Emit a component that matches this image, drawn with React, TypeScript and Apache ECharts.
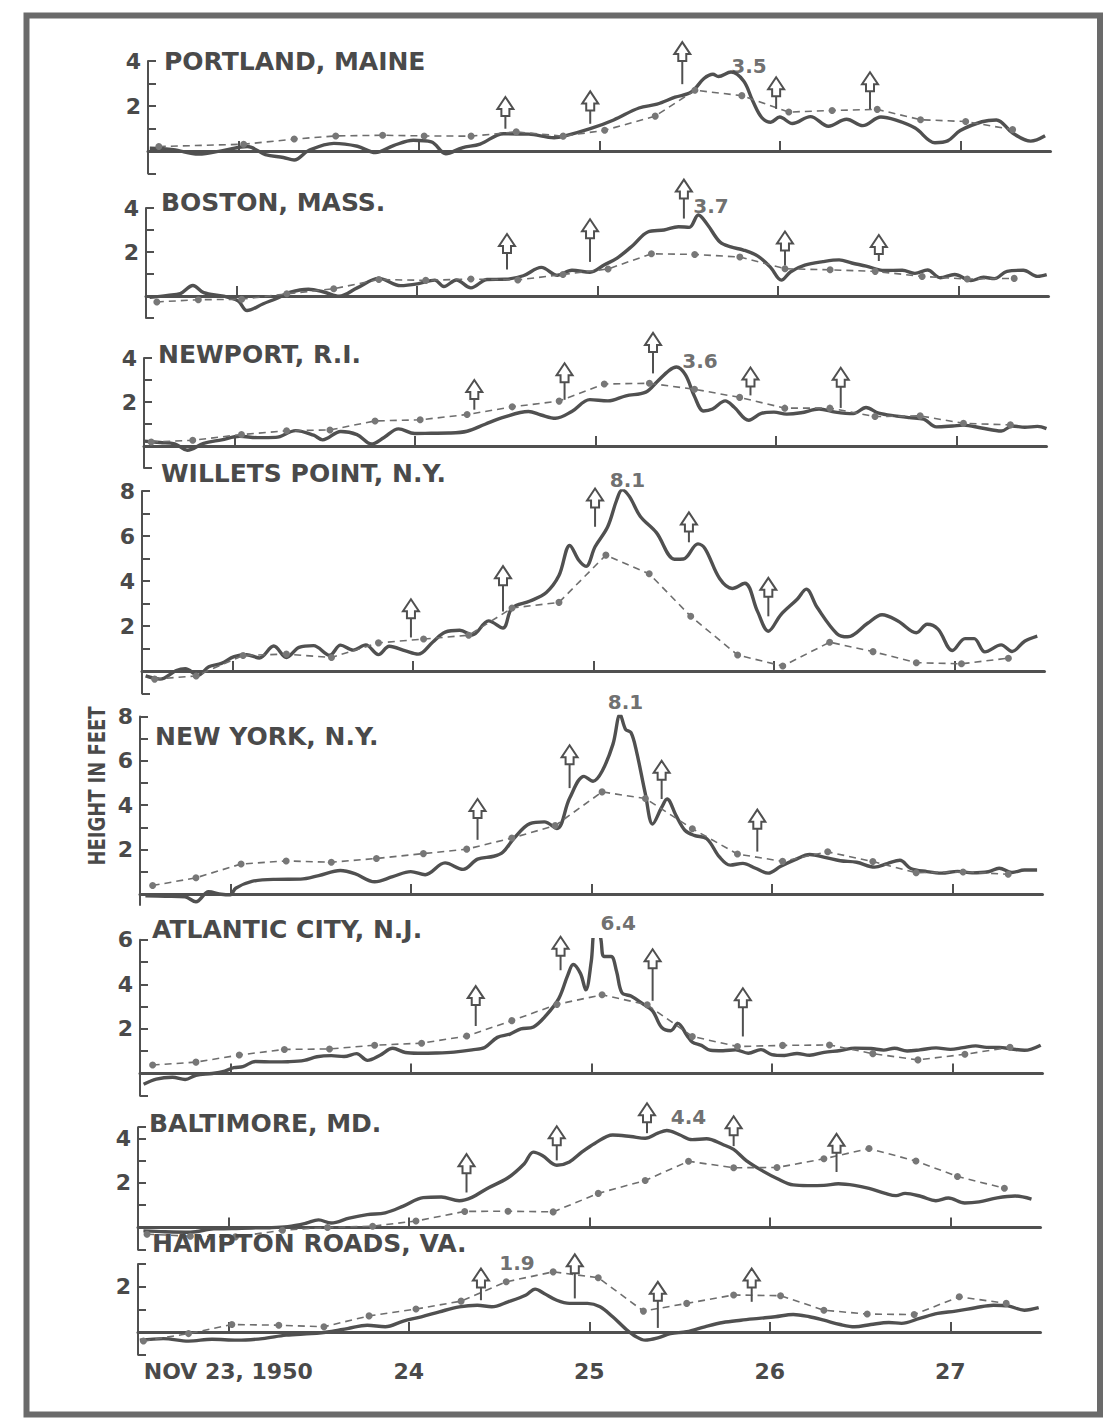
import React, { useEffect, useRef } from "react";
import * as echarts from "echarts";

// ---------- data (time in days of Nov 1950, height in feet) ----------
const DAY_TICKS = [23, 24, 25, 26, 27];
const DAY_LABELS = ["NOV 23, 1950", "24", "25", "26", "27"];

const STATION_NAMES = [
  "PORTLAND, MAINE",
  "BOSTON, MASS.",
  "NEWPORT, R.I.",
  "WILLETS POINT, N.Y.",
  "NEW YORK, N.Y.",
  "ATLANTIC CITY, N.J.",
  "BALTIMORE, MD.",
  "HAMPTON ROADS, VA.",
];
const PEAK_TEXT = ["3.5", "3.7", "3.6", "8.1", "8.1", "6.4", "4.4", "1.9"];
const PEAK_POS = [
  [25.83, 3.8], [25.63, 4.1], [25.58, 3.85], [25.19, 8.5],
  [25.19, 8.65], [25.15, 6.75], [25.55, 4.95], [24.6, 3.05],
];

const PORTLAND_OBS = [[22.51,0.12],[22.64,0.06],[22.78,-0.14],[22.92,0.03],[23.05,0.2],[23.15,-0.16],[23.25,-0.29],[23.31,-0.4],[23.39,0.02],[23.53,0.34],[23.66,0.21],[23.76,-0.07],[23.86,0.24],[23.97,0.48],[24.07,0.41],[24.15,-0.12],[24.24,0.14],[24.34,0.31],[24.47,0.77],[24.61,0.75],[24.75,0.59],[24.81,0.67],[24.95,0.99],[25.08,1.38],[25.22,1.91],[25.32,2.08],[25.42,2.39],[25.51,2.62],[25.58,3.22],[25.63,3.41],[25.66,3.31],[25.73,3.51],[25.8,3.11],[25.85,2.23],[25.9,1.49],[25.95,1.28],[26.0,1.51],[26.07,1.22],[26.17,1.53],[26.27,1.1],[26.37,1.41],[26.46,1.13],[26.56,1.51],[26.64,1.38],[26.75,1.02],[26.86,0.37],[26.93,0.45],[27.0,0.91],[27.12,1.3],[27.2,1.38],[27.29,0.8],[27.39,0.44],[27.47,0.68]];
const PORTLAND_PRED = [[22.56,0.2],[23.03,0.3],[23.31,0.53],[23.54,0.67],[23.8,0.7],[24.03,0.67],[24.29,0.66],[24.54,0.85],[24.8,0.66],[25.03,0.92],[25.31,1.55],[25.53,2.7],[25.79,2.46],[26.05,1.73],[26.29,1.8],[26.54,1.85],[26.78,1.39],[27.03,1.31],[27.29,0.95]];
const PORTLAND_ARROWS = [[24.48,0.99,2.4],[24.95,1.21,2.65],[25.46,2.97,4.84],[25.98,1.87,3.28],[26.5,1.87,3.5]];

const BOSTON_OBS = [[22.52,-0.06],[22.62,0.03],[22.69,0.11],[22.76,0.48],[22.82,0.15],[22.93,-0.01],[23.01,-0.22],[23.06,-0.66],[23.15,-0.35],[23.23,-0.09],[23.3,0.18],[23.4,0.31],[23.49,0.17],[23.57,-0.01],[23.67,0.37],[23.79,0.8],[23.91,0.47],[24.01,0.56],[24.1,0.72],[24.15,0.43],[24.22,0.73],[24.3,0.37],[24.39,0.75],[24.49,0.76],[24.59,0.92],[24.69,1.3],[24.78,0.94],[24.86,1.17],[24.96,1.08],[25.04,1.42],[25.11,1.72],[25.2,2.32],[25.28,2.91],[25.37,3.0],[25.45,3.15],[25.51,3.12],[25.56,3.68],[25.61,3.25],[25.68,2.45],[25.74,2.23],[25.81,2.09],[25.89,1.81],[25.96,1.3],[26.02,0.72],[26.07,1.09],[26.15,1.4],[26.25,1.56],[26.34,1.64],[26.41,1.5],[26.49,1.36],[26.59,1.16],[26.69,1.17],[26.76,1.03],[26.83,1.18],[26.9,0.83],[26.98,0.98],[27.07,0.7],[27.14,0.85],[27.2,0.79],[27.27,1.12],[27.36,1.17],[27.44,0.89],[27.49,0.97]];
const BOSTON_PRED = [[22.56,-0.27],[22.79,-0.17],[23.03,-0.15],[23.28,0.1],[23.54,0.33],[23.79,0.75],[24.05,0.71],[24.3,0.77],[24.56,0.73],[24.81,0.98],[25.06,1.23],[25.3,1.92],[25.54,1.89],[25.79,1.77],[26.04,1.24],[26.29,1.19],[26.54,1.12],[26.8,0.89],[27.05,0.77],[27.31,0.8]];
const BOSTON_ARROWS = [[24.5,1.2,2.82],[24.96,1.55,3.49],[25.48,3.52,5.29],[26.04,1.39,2.93],[26.56,1.59,2.77]];

const NEWPORT_OBS = [[22.5,0.22],[22.59,0.16],[22.67,0.1],[22.74,-0.19],[22.83,0.12],[22.93,0.28],[23.03,0.44],[23.13,0.38],[23.23,0.39],[23.34,0.7],[23.44,0.49],[23.49,0.28],[23.59,0.66],[23.68,0.52],[23.76,0.09],[23.83,0.39],[23.91,0.78],[24.0,0.57],[24.09,0.58],[24.19,0.59],[24.29,0.67],[24.39,0.99],[24.49,1.3],[24.63,1.57],[24.7,1.41],[24.78,1.26],[24.87,1.57],[24.97,2.11],[25.07,2.05],[25.17,2.28],[25.28,2.45],[25.34,2.9],[25.41,3.44],[25.45,3.59],[25.5,3.23],[25.55,2.25],[25.6,1.59],[25.65,1.68],[25.72,2.05],[25.77,1.76],[25.85,1.17],[25.92,1.48],[25.99,1.54],[26.06,1.45],[26.14,1.51],[26.24,1.68],[26.33,1.54],[26.43,1.47],[26.5,1.75],[26.57,1.49],[26.67,1.36],[26.74,1.29],[26.82,1.22],[26.89,0.87],[26.98,0.91],[27.04,0.95],[27.14,0.82],[27.25,0.68],[27.31,0.91],[27.38,0.85],[27.45,0.89],[27.5,0.79]];
const NEWPORT_PRED = [[22.54,0.18],[22.77,0.26],[23.04,0.52],[23.29,0.69],[23.53,0.73],[23.78,1.14],[24.03,1.19],[24.29,1.43],[24.54,1.78],[24.8,2.04],[25.05,2.82],[25.3,2.85],[25.55,2.58],[25.8,2.21],[26.05,1.72],[26.3,1.72],[26.55,1.34],[26.8,1.37],[27.04,1.03],[27.3,0.96]];
const NEWPORT_ARROWS = [[24.33,1.65,3.0],[24.83,2.1,3.76],[25.32,3.3,5.14],[25.86,2.3,3.57],[26.36,1.73,3.56]];

const WILLETS_OBS = [[22.52,-0.22],[22.6,-0.36],[22.69,0.02],[22.74,0.1],[22.81,-0.19],[22.87,0.19],[22.94,0.34],[23.01,0.64],[23.08,0.72],[23.15,0.58],[23.23,1.11],[23.3,0.6],[23.37,1.05],[23.45,1.13],[23.54,0.7],[23.6,1.15],[23.67,0.93],[23.74,1.16],[23.81,0.73],[23.87,1.1],[23.96,0.89],[24.03,0.75],[24.11,1.28],[24.18,1.73],[24.26,1.81],[24.33,1.6],[24.42,2.23],[24.5,1.91],[24.55,2.8],[24.65,3.11],[24.74,3.49],[24.81,4.24],[24.87,5.58],[24.92,4.92],[24.96,4.65],[25.01,5.52],[25.08,6.41],[25.13,7.6],[25.16,8.05],[25.2,7.76],[25.26,6.88],[25.35,6.15],[25.45,4.97],[25.5,4.98],[25.58,5.65],[25.62,5.43],[25.7,4.11],[25.77,3.67],[25.84,3.9],[25.91,2.65],[25.97,1.77],[26.04,2.51],[26.13,3.19],[26.18,3.64],[26.24,2.83],[26.35,1.66],[26.41,1.52],[26.52,2.12],[26.6,2.5],[26.69,2.21],[26.79,1.7],[26.85,2.08],[26.91,1.86],[26.99,0.91],[27.06,1.44],[27.11,1.44],[27.17,0.85],[27.26,1.16],[27.32,0.87],[27.39,1.32],[27.46,1.55]];
const WILLETS_PRED = [[22.57,-0.36],[22.8,-0.22],[23.06,0.69],[23.3,0.75],[23.55,0.6],[23.81,1.25],[24.06,1.42],[24.31,1.59],[24.55,2.8],[24.81,3.05],[25.07,5.15],[25.31,4.32],[25.54,2.43],[25.8,0.71],[26.05,0.22],[26.31,1.28],[26.55,0.86],[26.79,0.37],[27.04,0.32],[27.3,0.57]];
const WILLETS_ARROWS = [[23.99,1.49,3.19],[24.5,2.65,4.66],[25.01,6.41,8.11],[25.53,5.72,7.05],[25.97,2.43,4.14]];

const NEWYORK_OBS = [[22.53,-0.08],[22.64,-0.1],[22.75,-0.13],[22.81,-0.35],[22.88,0.1],[22.95,-0.01],[23.0,-0.04],[23.03,0.26],[23.12,0.57],[23.25,0.66],[23.39,0.67],[23.49,0.83],[23.61,1.06],[23.69,0.92],[23.8,0.55],[23.9,0.78],[24.0,1.01],[24.08,0.87],[24.19,1.4],[24.29,1.11],[24.37,1.57],[24.46,1.7],[24.51,1.88],[24.57,2.49],[24.66,3.17],[24.74,3.25],[24.81,2.95],[24.88,4.31],[24.96,5.3],[25.01,5.08],[25.06,5.53],[25.12,6.74],[25.16,8.09],[25.19,7.42],[25.22,7.27],[25.25,6.45],[25.3,4.5],[25.34,3.15],[25.39,3.9],[25.42,4.28],[25.47,3.53],[25.52,2.86],[25.57,2.64],[25.64,2.49],[25.71,1.67],[25.77,1.3],[25.84,1.38],[25.91,1.16],[25.98,0.94],[26.05,1.25],[26.13,1.55],[26.21,1.78],[26.3,1.64],[26.38,1.5],[26.47,1.43],[26.57,1.21],[26.64,1.37],[26.71,1.52],[26.77,1.15],[26.86,1.01],[26.94,0.94],[27.03,1.02],[27.11,0.95],[27.2,1.0],[27.26,1.16],[27.33,0.97],[27.4,1.08],[27.47,1.08]];
const NEWYORK_PRED = [[22.57,0.38],[22.81,0.73],[23.06,1.35],[23.31,1.49],[23.56,1.43],[23.81,1.6],[24.07,1.82],[24.31,2.02],[24.56,2.52],[24.8,3.08],[25.06,4.6],[25.3,4.3],[25.56,2.94],[25.81,1.8],[26.06,1.47],[26.31,1.9],[26.56,1.46],[26.8,0.96],[27.06,0.99],[27.31,0.89]];
const NEWYORK_ARROWS = [[24.37,2.44,4.28],[24.88,4.77,6.7],[25.39,4.28,6.0],[25.92,1.91,3.8]];

const ATLANTIC_OBS = [[22.52,-0.48],[22.59,-0.25],[22.68,-0.17],[22.75,-0.27],[22.81,-0.08],[22.9,0.0],[22.97,0.11],[23.02,0.26],[23.07,0.31],[23.14,0.54],[23.24,0.52],[23.32,0.53],[23.41,0.59],[23.48,0.75],[23.56,0.8],[23.63,0.76],[23.7,0.89],[23.76,0.59],[23.83,0.82],[23.9,1.13],[23.97,0.94],[24.04,0.91],[24.14,0.92],[24.24,0.96],[24.34,1.06],[24.41,1.17],[24.48,1.62],[24.55,1.77],[24.61,2.0],[24.68,2.09],[24.75,2.61],[24.82,3.36],[24.87,4.41],[24.9,4.89],[24.94,4.49],[24.97,3.75],[25.0,5.02],[25.02,6.44],[25.05,6.14],[25.07,5.25],[25.11,5.25],[25.14,4.59],[25.17,3.62],[25.22,3.47],[25.29,3.1],[25.34,2.81],[25.39,2.07],[25.44,1.92],[25.48,2.25],[25.53,1.71],[25.56,1.41],[25.61,1.26],[25.66,1.04],[25.73,1.02],[25.8,1.06],[25.87,0.91],[25.94,1.07],[26.0,0.85],[26.07,0.81],[26.14,0.9],[26.21,0.82],[26.29,0.95],[26.38,1.03],[26.46,1.14],[26.55,1.12],[26.62,1.05],[26.68,1.13],[26.75,1.01],[26.82,1.06],[26.91,1.15],[26.99,1.08],[27.06,1.16],[27.13,1.24],[27.19,1.17],[27.26,1.17],[27.33,1.1],[27.4,1.04],[27.49,1.27]];
const ATLANTIC_PRED = [[22.57,0.38],[22.81,0.51],[23.05,0.83],[23.3,1.08],[23.55,1.1],[23.8,1.27],[24.06,1.36],[24.31,1.68],[24.56,2.37],[24.81,3.1],[25.06,3.53],[25.31,3.08],[25.56,1.66],[25.81,1.21],[26.06,1.26],[26.32,1.28],[26.56,0.89],[26.81,0.61],[27.07,0.86],[27.32,1.18]];
const ATLANTIC_ARROWS = [[24.36,2.13,3.92],[24.83,4.63,6.13],[25.34,3.26,5.57],[25.84,1.66,3.82]];

const BALTIMORE_OBS = [[22.53,-0.15],[22.65,-0.19],[22.79,-0.21],[22.92,-0.06],[23.02,-0.05],[23.13,-0.02],[23.23,-0.01],[23.33,0.04],[23.43,0.19],[23.5,0.34],[23.57,0.2],[23.67,0.42],[23.77,0.58],[23.87,0.66],[23.97,0.96],[24.08,1.34],[24.18,1.37],[24.28,1.2],[24.35,1.35],[24.43,1.73],[24.55,2.23],[24.64,2.86],[24.69,3.38],[24.74,3.23],[24.82,2.79],[24.89,2.94],[24.96,3.39],[25.03,3.77],[25.13,4.15],[25.23,4.08],[25.31,4.0],[25.38,4.23],[25.43,4.35],[25.5,4.16],[25.57,3.94],[25.65,3.98],[25.74,3.72],[25.8,3.5],[25.87,3.0],[25.96,2.54],[26.04,2.2],[26.13,1.91],[26.21,1.88],[26.3,1.89],[26.38,1.96],[26.47,1.89],[26.55,1.75],[26.64,1.53],[26.7,1.43],[26.75,1.53],[26.84,1.39],[26.92,1.2],[26.99,1.32],[27.08,1.1],[27.16,1.15],[27.26,1.33],[27.36,1.41],[27.45,1.27]];
const BALTIMORE_PRED = [[22.55,-0.3],[22.79,-0.39],[23.04,-0.42],[23.3,-0.12],[23.55,0.0],[23.8,0.06],[24.04,0.29],[24.31,0.72],[24.55,0.73],[24.8,0.7],[25.05,1.53],[25.31,2.11],[25.55,2.97],[25.8,2.68],[26.04,2.69],[26.3,3.08],[26.55,3.54],[26.81,2.98],[27.04,2.29],[27.3,1.76]];
const BALTIMORE_ARROWS = [[24.32,1.57,3.29],[24.82,3.01,4.54],[25.32,4.23,5.57],[25.8,3.65,4.99],[26.37,2.49,4.2]];

const HAMPTON_OBS = [[22.51,-0.36],[22.64,-0.29],[22.78,-0.4],[22.91,-0.32],[23.05,-0.36],[23.19,-0.29],[23.32,-0.14],[23.46,-0.07],[23.56,0.01],[23.66,0.15],[23.77,0.3],[23.87,0.23],[23.97,0.48],[24.07,0.67],[24.17,0.89],[24.28,1.11],[24.38,1.18],[24.46,1.11],[24.55,1.33],[24.65,1.63],[24.7,1.89],[24.75,1.7],[24.82,1.4],[24.89,1.26],[24.99,1.26],[25.06,1.11],[25.13,0.67],[25.2,0.15],[25.26,-0.21],[25.31,-0.36],[25.38,-0.26],[25.45,-0.07],[25.54,0.01],[25.64,0.23],[25.74,0.42],[25.84,0.52],[25.94,0.6],[26.03,0.67],[26.13,0.77],[26.22,0.67],[26.3,0.52],[26.39,0.33],[26.47,0.23],[26.56,0.33],[26.66,0.42],[26.73,0.38],[26.83,0.6],[26.93,0.82],[27.03,0.92],[27.14,1.07],[27.24,1.18],[27.32,1.15],[27.41,0.96],[27.49,1.07]];
const HAMPTON_PRED = [[22.53,-0.4],[22.78,-0.07],[23.02,0.33],[23.28,0.3],[23.53,0.23],[23.78,0.71],[24.04,1.01],[24.29,1.36],[24.54,2.21],[24.8,2.65],[25.05,2.39],[25.3,0.92],[25.54,1.26],[25.8,1.63],[26.06,1.6],[26.3,0.96],[26.54,0.79],[26.8,0.77],[27.05,1.55],[27.31,1.26]];
const HAMPTON_ARROWS = [[24.4,1.4,2.8],[24.92,1.48,3.42],[25.38,0.18,2.21],[25.9,1.33,2.8]];

const OBS = [PORTLAND_OBS, BOSTON_OBS, NEWPORT_OBS, WILLETS_OBS, NEWYORK_OBS, ATLANTIC_OBS, BALTIMORE_OBS, HAMPTON_OBS];
const PRED = [PORTLAND_PRED, BOSTON_PRED, NEWPORT_PRED, WILLETS_PRED, NEWYORK_PRED, ATLANTIC_PRED, BALTIMORE_PRED, HAMPTON_PRED];
const ARROWS = [PORTLAND_ARROWS, BOSTON_ARROWS, NEWPORT_ARROWS, WILLETS_ARROWS, NEWYORK_ARROWS, ATLANTIC_ARROWS, BALTIMORE_ARROWS, HAMPTON_ARROWS];

// y-axis ranges / ticks / labels
const Y_MIN = [-1, -1, -1, -1, -0.5, -1, -1, -1];
const Y_MAX = [4, 4, 4, 8, 8, 6, 4.5, 3];
const Y_TICKS = [
  [-1, 0, 1, 2, 3, 4],
  [-1, 0, 1, 2, 3, 4],
  [-1, 0, 1, 2, 3, 4],
  [-1, 0, 1, 2, 3, 4, 5, 6, 7, 8],
  [0, 1, 2, 3, 4, 5, 6, 7, 8],
  [-1, 0, 1, 2, 3, 4, 5, 6],
  [-1, 0, 1, 2, 3, 4, 4.5],
  [-1, 0, 1, 2, 3],
];
const Y_LABELS = [[2, 4], [2, 4], [2, 4], [2, 4, 6, 8], [2, 4, 6, 8], [2, 4, 6], [2, 4], [2]];

// ---------- layout (pixels) ----------
const X_MIN = 22.5;
const X_MAX = 27.5;
const PLOT_W = 902.5;
const PANEL_LEFT = [148, 146, 144, 142, 140, 140, 138, 138];
const PANEL_ZERO = [151, 296, 446, 671, 894, 1073.5, 1227.5, 1332];
const PANEL_PPF = [22.5, 22, 22, 22.5, 22.2, 22.3, 22.3, 22.7];
const NAME_POS = [[164, 64], [161, 205], [158, 357], [161, 476], [155, 739], [152, 932], [149, 1126], [152, 1246]];

const INK = "#505050";
const DASH_INK = "#6e6e6e";
const TEXT = "#4a4a4a";
const FONT = "DejaVu Sans";

function buildOption() {
  const grid: any[] = [];
  const xAxis: any[] = [];
  const yAxis: any[] = [];
  const series: any[] = [];
  const graphic: any[] = [];

  for (let i = 0; i < 8; i++) {
    const ppf = PANEL_PPF[i];
    const top = PANEL_ZERO[i] - Y_MAX[i] * ppf;
    const height = (Y_MAX[i] - Y_MIN[i]) * ppf;
    grid.push({ left: PANEL_LEFT[i], top, width: PLOT_W, height, containLabel: false, outerBoundsMode: "none" });
    const isBottom = i === 7;
    xAxis.push({
      gridIndex: i,
      type: "value",
      min: X_MIN,
      max: X_MAX,
      axisLine: { show: true, onZero: true, lineStyle: { color: INK, width: 3 } },
      axisTick: { show: true, inside: true, length: 10, customValues: DAY_TICKS, lineStyle: { color: INK, width: 2 } },
      axisLabel: {
        show: isBottom,
        customValues: DAY_TICKS,
        formatter: (v: number) => DAY_LABELS[DAY_TICKS.indexOf(Math.round(v))] ?? "",
        margin: 6,
        fontSize: 22,
        fontWeight: "bold",
        fontFamily: FONT,
        color: TEXT,
      },
      splitLine: { show: false },
    });
    yAxis.push({
      gridIndex: i,
      type: "value",
      min: Y_MIN[i],
      max: Y_MAX[i],
      axisLine: { show: true, onZero: false, lineStyle: { color: INK, width: 2 } },
      axisTick: { show: true, inside: true, length: 8, customValues: Y_TICKS[i], lineStyle: { color: INK, width: 2 } },
      axisLabel: {
        show: true,
        customValues: Y_LABELS[i],
        margin: 7,
        fontSize: 22,
        fontWeight: "bold",
        fontFamily: FONT,
        color: TEXT,
      },
      splitLine: { show: false },
    });

    series.push({
      type: "line",
      xAxisIndex: i,
      yAxisIndex: i,
      data: OBS[i],
      smooth: 0.35,
      showSymbol: false,
      lineStyle: { color: INK, width: 3.4 },
      z: 3,
    });
    series.push({
      type: "line",
      xAxisIndex: i,
      yAxisIndex: i,
      data: PRED[i],
      showSymbol: true,
      symbol: "circle",
      symbolSize: 7,
      itemStyle: { color: "#777777" },
      lineStyle: { color: DASH_INK, width: 1.6, type: [7, 5] },
      z: 4,
    });
    series.push({
      type: "custom",
      xAxisIndex: i,
      yAxisIndex: i,
      coordinateSystem: "cartesian2d",
      clip: false,
      data: ARROWS[i],
      encode: { x: 0, y: [1, 2] },
      z: 5,
      renderItem: (_params: any, api: any) => {
        const x = api.value(0);
        const pb = api.coord([x, api.value(1)]);
        const pt = api.coord([x, api.value(2)]);
        const cx = pt[0];
        const ty = pt[1];
        return {
          type: "group",
          children: [
            {
              type: "line",
              shape: { x1: cx, y1: ty + 19, x2: cx, y2: pb[1] },
              style: { stroke: INK, lineWidth: 2 },
            },
            {
              type: "polygon",
              shape: {
                points: [
                  [cx, ty],
                  [cx + 8, ty + 12],
                  [cx + 4, ty + 12],
                  [cx + 4, ty + 19],
                  [cx - 4, ty + 19],
                  [cx - 4, ty + 12],
                  [cx - 8, ty + 12],
                ],
              },
              style: { fill: "#ffffff", stroke: INK, lineWidth: 2 },
            },
          ],
        };
      },
    });
    series.push({
      type: "scatter",
      xAxisIndex: i,
      yAxisIndex: i,
      symbolSize: 0,
      silent: true,
      clip: false,
      data: [{ name: PEAK_TEXT[i], value: PEAK_POS[i] }],
      label: {
        show: true,
        position: "inside",
        formatter: "{b}",
        fontSize: 20,
        fontWeight: "bold",
        fontFamily: FONT,
        color: TEXT,
        textBorderWidth: 0,
      },
      z: 6,
    });

    graphic.push({
      type: "text",
      left: NAME_POS[i][0],
      top: NAME_POS[i][1] - 15,
      style: {
        text: STATION_NAMES[i],
        fontSize: 25,
        fontWeight: "bold",
        fontFamily: FONT,
        fill: TEXT,
      },
      z: 10,
    });
  }

  graphic.push({
    type: "rect",
    shape: { x: 26.5, y: 15.5, width: 1073.5, height: 1399 },
    style: { fill: "none", stroke: "#6a6a6a", lineWidth: 6 },
    z: 1,
  });
  graphic.push({
    type: "text",
    x: 97,
    y: 786,
    rotation: Math.PI / 2,
    scaleX: 0.78,
    style: {
      text: "HEIGHT IN FEET",
      fontSize: 23,
      fontWeight: "bold",
      fontFamily: FONT,
      fill: TEXT,
      align: "center",
      verticalAlign: "middle",
    },
    z: 10,
  });

  return {
    animation: false,
    backgroundColor: "#ffffff",
    grid,
    xAxis,
    yAxis,
    series,
    graphic,
  };
}

export default function App() {
  const ref = useRef<HTMLDivElement>(null);
  useEffect(() => {
    document.body.style.margin = "0";
    if (!ref.current) return;
    const chart = echarts.init(ref.current, undefined, { renderer: "svg" });
    chart.setOption(buildOption() as any);
    return () => chart.dispose();
  }, []);
  return <div ref={ref} style={{ width: 1106, height: 1419 }} />;
}
